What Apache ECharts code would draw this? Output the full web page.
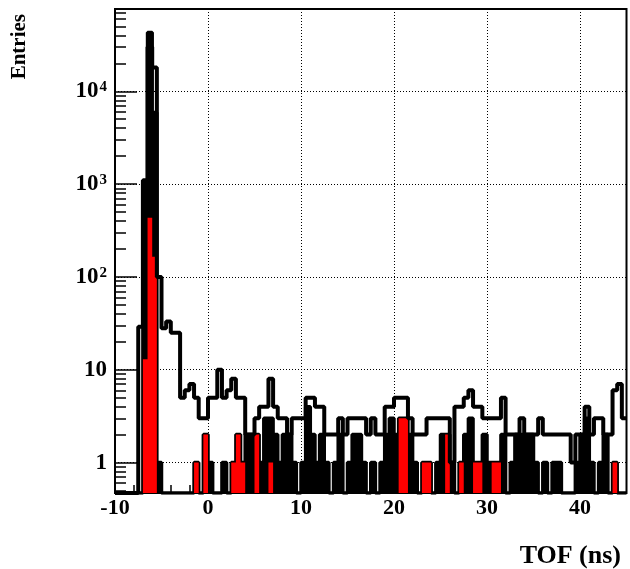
<!DOCTYPE html>
<html>
<head>
<meta charset="utf-8">
<title>TOF</title>
<script src="https://cdn.jsdelivr.net/npm/echarts@6/dist/echarts.min.js"></script>
<style>
  html, body { margin: 0; padding: 0; background: #fff; }
  #chart { width: 630px; height: 569px; }
</style>
</head>
<body>
<div id="chart"></div>
<script>
// binning of the histograms (ns)
const X_MIN = -10;
const X_MAX = 45;
const BIN_WIDTH = 0.5;
const Y_MIN = 0.47;
const Y_MAX = 77000;

// all entries, hollow black histogram (110 bins of 0.5 ns from -10)
const allCounts = [
  0, 0, 0, 0, 0, 29, 1100, 30000, 18000, 100,
  28, 33, 25, 25, 5, 6, 7, 5, 3, 3,
  5, 5, 10, 5, 6, 8, 5, 5, 2, 2,
  3, 4, 4, 8, 4, 3, 3, 2, 3, 3,
  3, 5, 5, 4, 4, 2, 2, 2, 3, 2,
  3, 3, 3, 3, 2, 3, 2, 2, 4, 4,
  5, 5, 5, 3, 2, 2, 2, 3, 3, 3,
  3, 3, 1, 4, 4, 5, 6, 4, 4, 3,
  3, 3, 3, 5, 2, 2, 2, 3, 2, 2,
  2, 3, 2, 2, 2, 2, 2, 2, 1, 2,
  2, 4, 2, 3, 3, 2, 2, 6, 7, 3
];

// selected entries, black filled histogram
const selCounts = [
  0, 0, 0, 0, 0, 0, 1070, 43000, 5900, 1,
  0, 0, 0, 0, 0, 0, 0, 1, 0, 2,
  1, 0, 0, 1, 0, 1, 2, 1, 2, 2,
  2, 1, 3, 3, 2, 1, 2, 2, 1, 0,
  1, 4, 2, 1, 2, 1, 0, 1, 2, 0,
  1, 2, 2, 1, 0, 1, 0, 1, 2, 3,
  2, 3, 3, 2, 1, 0, 1, 1, 0, 1,
  2, 2, 1, 0, 1, 2, 3, 1, 1, 2,
  1, 1, 1, 2, 0, 1, 2, 2, 2, 2,
  1, 0, 1, 0, 1, 1, 0, 0, 0, 1,
  2, 3, 1, 0, 1, 2, 0, 1, 0, 0
];

// red filled histogram
const redCounts = [
  0, 0, 0, 0, 0, 0, 13, 435, 165, 0,
  0, 0, 0, 0, 0, 0, 0, 1, 0, 2,
  0, 0, 0, 0, 0, 1, 2, 1, 0, 0,
  2, 0, 0, 1, 0, 0, 0, 0, 0, 0,
  0, 0, 0, 0, 0, 0, 0, 0, 0, 0,
  0, 0, 0, 0, 0, 0, 0, 0, 0, 0,
  0, 3, 3, 0, 0, 0, 1, 1, 0, 0,
  0, 2, 0, 0, 1, 0, 0, 1, 1, 0,
  0, 1, 1, 0, 0, 0, 0, 0, 0, 0,
  0, 0, 0, 0, 0, 0, 0, 0, 0, 0,
  0, 0, 0, 0, 0, 0, 0, 1, 0, 0
];

const xMajorTicks = [-10, 0, 10, 20, 30, 40];
const xMinorTicks = [-8, -6, -4, -2, 2, 4, 6, 8, 12, 14, 16, 18, 22, 24, 26, 28, 32, 34, 36, 38, 42, 44];
const yMajorTicks = [1, 10, 100, 1000, 10000];
const yMinorTicks = [];
[0.1, 1, 10, 100, 1000, 10000].forEach(function (d) {
  for (let k = 2; k <= 9; k++) {
    const v = d * k;
    if (v > Y_MIN && v < Y_MAX) yMinorTicks.push(v);
  }
});

const FONT = '"Liberation Serif", "Times New Roman", serif';

// histogram -> step points (bin low edge, content); empty bins sit on the axis floor
function steps(counts) {
  const pts = counts.map(function (c, i) {
    return [X_MIN + i * BIN_WIDTH, c > 0 ? c : Y_MIN];
  });
  const last = counts[counts.length - 1];
  pts.push([X_MIN + counts.length * BIN_WIDTH, last > 0 ? last : Y_MIN]);
  return pts;
}

const myChart = echarts.init(document.getElementById('chart'), null, { renderer: 'canvas' });

const option = {
  animation: false,
  backgroundColor: '#fff',
  grid: {
    left: 115, right: 3.5, top: 9, bottom: 76,
    show: true, borderColor: '#000', borderWidth: 2, backgroundColor: 'transparent'
  },
  xAxis: [
    {
      type: 'value', min: X_MIN, max: X_MAX, interval: 10,
      axisLine: { show: false, onZero: false },
      axisTick: { show: true, inside: true, length: 15, customValues: xMajorTicks, lineStyle: { color: '#000', width: 1.5 } },
      axisLabel: {
        customValues: xMajorTicks, margin: 4,
        color: '#000', fontFamily: FONT, fontWeight: 'bold', fontSize: 22
      },
      splitLine: { show: true, lineStyle: { color: '#000', width: 1, type: [1, 2] } }
    },
    {
      type: 'value', min: X_MIN, max: X_MAX, position: 'bottom',
      axisLine: { show: false, onZero: false },
      axisTick: { show: true, inside: true, length: 8, customValues: xMinorTicks, lineStyle: { color: '#000', width: 1.5 } },
      axisLabel: { show: false },
      splitLine: { show: false }
    }
  ],
  yAxis: [
    {
      type: 'log', logBase: 10, min: Y_MIN, max: Y_MAX, position: 'left',
      axisLine: { show: false, onZero: false },
      axisTick: { show: true, inside: true, length: 22, customValues: yMajorTicks, lineStyle: { color: '#000', width: 1.5 } },
      axisLabel: {
        customValues: yMajorTicks, margin: 8,
        color: '#000', fontFamily: FONT, fontWeight: 'bold', fontSize: 23,
        formatter: function (v) {
          const p = Math.round(Math.log10(v));
          if (p === 0) return '1';
          if (p === 1) return '10';
          return '10{sup|' + p + '}';
        },
        rich: {
          sup: { fontFamily: FONT, fontWeight: 'bold', fontSize: 15, verticalAlign: 'top', padding: [0, 0, 8, 1] }
        }
      },
      splitLine: { show: true, lineStyle: { color: '#000', width: 1, type: [1, 2] } }
    },
    {
      type: 'log', logBase: 10, min: Y_MIN, max: Y_MAX, position: 'left',
      axisLine: { show: false, onZero: false },
      axisTick: { show: true, inside: true, length: 11, customValues: yMinorTicks, lineStyle: { color: '#000', width: 1.5 } },
      axisLabel: { show: false },
      splitLine: { show: false }
    }
  ],
  series: [
    {
      name: 'selected', type: 'line', step: 'end', symbol: 'none', z: 2,
      data: steps(selCounts),
      lineStyle: { color: '#000', width: 3.5 },
      areaStyle: { color: '#000', opacity: 1, origin: 'start' }
    },
    {
      name: 'red', type: 'line', step: 'end', symbol: 'none', z: 3,
      data: steps(redCounts),
      lineStyle: { color: '#ff0000', width: 0 },
      areaStyle: { color: '#ff0000', opacity: 1, origin: 'start' }
    },
    {
      name: 'all', type: 'line', step: 'end', symbol: 'none', z: 4,
      data: steps(allCounts),
      lineStyle: { color: '#000', width: 4 }
    }
  ],
  graphic: [
    {
      type: 'text', x: 20, y: 14, rotation: Math.PI / 2,
      style: { text: 'Entries', fill: '#000', font: 'bold 21px ' + FONT, align: 'right', verticalAlign: 'middle' }
    },
    {
      type: 'text', x: 621, y: 556,
      style: { text: 'TOF (ns)', fill: '#000', font: 'bold 26px ' + FONT, align: 'right', verticalAlign: 'middle' }
    }
  ]
};

myChart.setOption(option);
</script>
</body>
</html>
